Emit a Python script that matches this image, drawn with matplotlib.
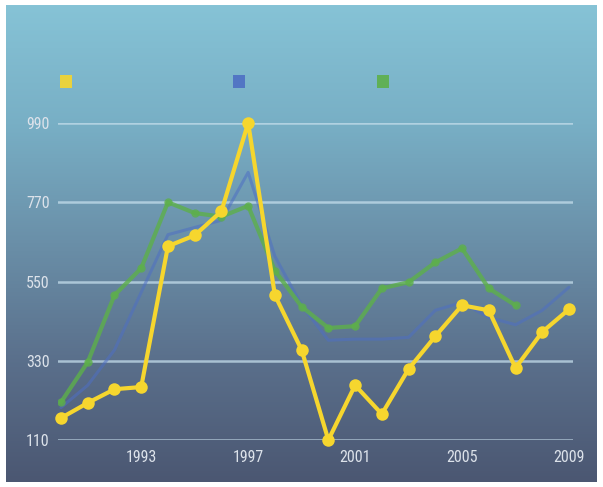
import numpy as np
import matplotlib
matplotlib.use("Agg")
import matplotlib.pyplot as plt
from matplotlib.colors import LinearSegmentedColormap
from matplotlib.patches import Rectangle
from matplotlib import font_manager

years = list(range(1990, 2010))
yellow_vals = [171, 213, 251, 257, 648, 678, 745, 990, 512, 360,
               110, 262, 182, 307, 398, 484, 470, 310, 410, 473]
blue_vals = [200, 262, 360, 520, 680, 700, 720, 853, 620, 484,
             387, 390, 390, 395, 470, 492, 450, 430, 470, 534]
green_years = list(range(1990, 2008))
green_vals = [215, 326, 512, 587, 770, 740, 730, 760, 580, 480,
              421, 426, 531, 548, 603, 642, 531, 484]

y_ticks = [110, 330, 550, 770, 990]
x_ticks = [1993, 1997, 2001, 2005, 2009]

YELLOW = "#F6D62E"
BLUE = "#4E6FC4"
GREEN = "#5DB04A"
TEXT = "#DCE2EA"

# pick a narrow face if one is available
names = {f.name for f in font_manager.fontManager.ttflist}
narrow = None
for cand in ["Liberation Sans Narrow", "DejaVu Sans Condensed", "Roboto Condensed",
             "Open Sans Condensed"]:
    if cand in names:
        narrow = cand
        break
tick_font = font_manager.FontProperties(
    family=[narrow] if narrow else ["DejaVu Sans"],
    stretch="condensed", size=11.5)

W, H = 603, 487
fig = plt.figure(figsize=(W / 100, H / 100), dpi=100, facecolor="white")

# gradient backdrop panel
bg = fig.add_axes([6 / W, 5 / H, 591 / W, 477 / H])
bg.set_axis_off()
cmap = LinearSegmentedColormap.from_list(
    "panel", ["#86C3D6", "#78AFC5", "#6A8FA8", "#5A6F8B", "#4B5772"])
grad = np.linspace(0, 1, 256).reshape(-1, 1)
bg.imshow(grad, aspect="auto", cmap=cmap, extent=[0, 1, 0, 1])

ax = fig.add_axes([58 / W, (H - 440) / H, 515 / W, 317 / H])
ax.patch.set_alpha(0)
ax.set_xlim(1989.888, 2009.15)
ax.set_ylim(110, 990)
for s in ax.spines.values():
    s.set_visible(False)

for v in y_ticks:
    ax.axhline(v, color="#C4DDEB", lw=1.8, alpha=0.75, zorder=1)

ax.plot(years, blue_vals, color=BLUE, lw=2.2, alpha=0.55, zorder=2,
        solid_capstyle="round")
ax.plot(green_years, green_vals, color=GREEN, lw=3.0, alpha=0.8, zorder=3,
        marker="o", ms=6, markeredgewidth=0, solid_joinstyle="round")
ax.plot(years, yellow_vals, color=YELLOW, lw=3.0, zorder=4,
        marker="o", ms=9, markeredgewidth=0, clip_on=False,
        solid_joinstyle="round")

ax.set_yticks(y_ticks)
ax.set_yticklabels([str(v) for v in y_ticks])
ax.set_xticks(x_ticks)
ax.set_xticklabels([str(v) for v in x_ticks])
ax.tick_params(axis="both", length=0, colors=TEXT)
ax.tick_params(axis="y", pad=6)
ax.tick_params(axis="x", pad=7)
for lab in ax.get_xticklabels() + ax.get_yticklabels():
    lab.set_fontproperties(tick_font)

# legend swatches
for xp, col in [(66, YELLOW), (239, BLUE), (383, GREEN)]:
    fig.add_artist(Rectangle(((xp - 6) / W, (H - 88) / H), 12 / W, 13 / H,
                             transform=fig.transFigure, color=col,
                             alpha=0.9, lw=0))

fig.savefig("out.png", dpi=100, facecolor="white")
